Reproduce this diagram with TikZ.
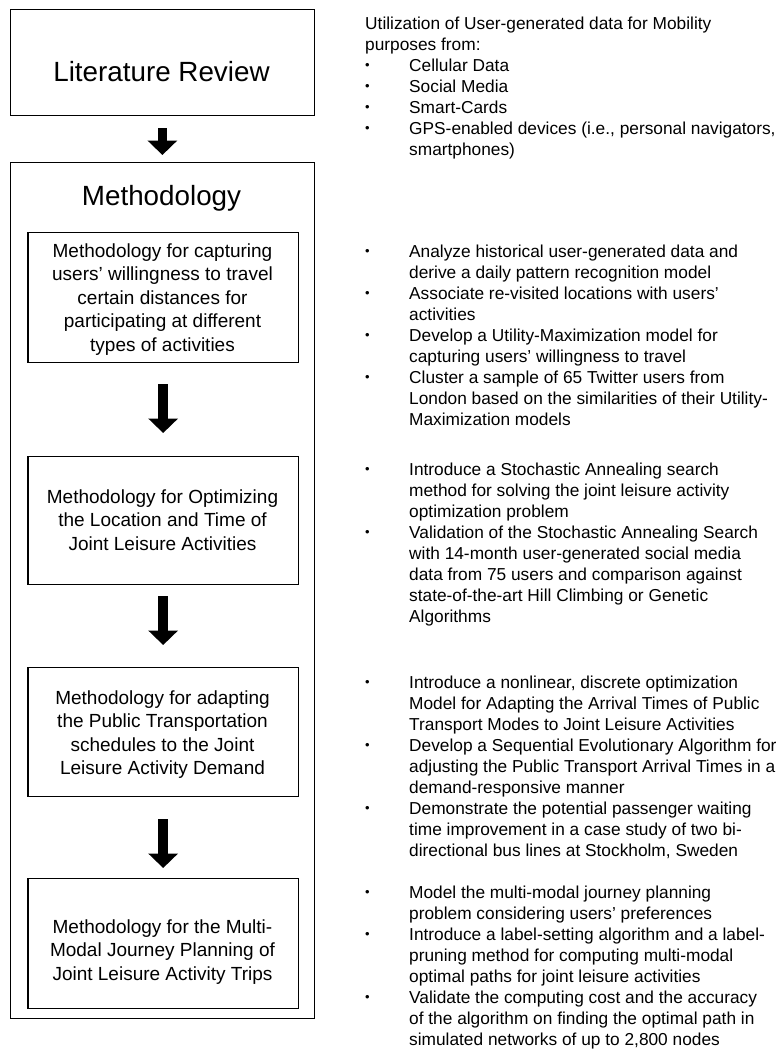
\documentclass[tikz,border=0pt]{standalone}
\usepackage{fontspec}
\setmainfont{Liberation Sans}
\usetikzlibrary{arrows.meta}
\newcommand{\dotmark}{\raisebox{1.6pt}{\scalebox{0.75}{\textbullet}}}
\begin{document}
\begin{tikzpicture}[x=1pt,y=-1pt,
  frame/.style={draw=black, line width=1.3pt, inner sep=0pt, anchor=north west},
  blockarrow/.style={line width=9.5pt, -{Triangle[width=29pt,length=14.5pt]}},
  bigtext/.style={font=\fontsize{27.8}{33}\selectfont, anchor=base, inner sep=0pt},
  steptext/.style={font=\fontsize{19}{23.5}\selectfont, anchor=base, inner sep=0pt},
  notes/.style={font=\fontsize{17.3}{21}\selectfont, anchor=base west, inner sep=0pt}]
\useasboundingbox (0,0) rectangle (783,1052);
\fill[white] (0,0) rectangle (783,1052);

% left column: frames
\node[frame, minimum width=304.5pt, minimum height=106pt] (lit) at (9.5,9) {};
\node[frame, minimum width=304.5pt, minimum height=856pt] (meth) at (9.5,162) {};
\node[frame, minimum width=270.4pt, minimum height=130pt] (s1) at (27.3,232) {};
\node[frame, minimum width=270.4pt, minimum height=128pt] (s2) at (27.3,456) {};
\node[frame, minimum width=270.4pt, minimum height=129pt] (s3) at (27.3,667) {};
\node[frame, minimum width=270.4pt, minimum height=130pt] (s4) at (27.3,878) {};

% left column: titles
\node[bigtext] (littitle) at (161.5,81) {Literature Review};
\node[bigtext] (methtitle) at (161.5,205) {Methodology};
\node[steptext] (s1text) at (162.5,257) {\begin{tabular}[t]{@{}c@{}}
Methodology for capturing\\ users’ willingness to travel\\ certain distances for\\
participating at different\\ types of activities\end{tabular}};
\node[steptext] (s2text) at (162.5,503) {\begin{tabular}[t]{@{}c@{}}
Methodology for Optimizing\\ the Location and Time of\\ Joint Leisure Activities\end{tabular}};
\node[steptext] (s3text) at (162.5,704) {\begin{tabular}[t]{@{}c@{}}
Methodology for adapting\\ the Public Transportation\\ schedules to the Joint\\
Leisure Activity Demand\end{tabular}};
\node[steptext] (s4text) at (162.5,933) {\begin{tabular}[t]{@{}c@{}}
Methodology for the Multi-\\ Modal Journey Planning of\\ Joint Leisure Activity Trips\end{tabular}};

% block arrows between the stages
\draw[blockarrow] ([yshift=-12pt]lit.south) -- ([yshift=7pt]meth.north);
\draw[blockarrow] ([yshift=-21pt]s1.south) -- ([yshift=23pt]s2.north);
\draw[blockarrow] ([yshift=-11pt]s2.south) -- ([yshift=22pt]s3.north);
\draw[blockarrow] ([yshift=-22pt]s3.south) -- ([yshift=10pt]s4.north);

% right column: bullet notes
\node[notes] (n0) at (365,29) {\begin{tabular}[t]{@{}p{44pt}@{}l@{}}
\multicolumn{2}{@{}l@{}}{Utilization of User-generated data for Mobility}\\
\multicolumn{2}{@{}l@{}}{purposes from:}\\
\dotmark & Cellular Data\\
\dotmark & Social Media\\
\dotmark & Smart-Cards\\
\dotmark & GPS-enabled devices (i.e., personal navigators,\\
 & smartphones)
\end{tabular}};

\node[notes] (n1) at (365,257) {\begin{tabular}[t]{@{}p{44pt}@{}l@{}}
\dotmark & Analyze historical user-generated data and\\
 & derive a daily pattern recognition model\\
\dotmark & Associate re-visited locations with users’\\
 & activities\\
\dotmark & Develop a Utility-Maximization model for\\
 & capturing users’ willingness to travel\\
\dotmark & Cluster a sample of 65 Twitter users from\\
 & London based on the similarities of their Utility-\\
 & Maximization models
\end{tabular}};

\node[notes] (n2) at (365,475) {\begin{tabular}[t]{@{}p{44pt}@{}l@{}}
\dotmark & Introduce a Stochastic Annealing search\\
 & method for solving the joint leisure activity\\
 & optimization problem\\
\dotmark & Validation of the Stochastic Annealing Search\\
 & with 14-month user-generated social media\\
 & data from 75 users and comparison against\\
 & state-of-the-art Hill Climbing or Genetic\\
 & Algorithms
\end{tabular}};

\node[notes] (n3) at (365,688) {\begin{tabular}[t]{@{}p{44pt}@{}l@{}}
\dotmark & Introduce a nonlinear, discrete optimization\\
 & Model for Adapting the Arrival Times of Public\\
 & Transport Modes to Joint Leisure Activities\\
\dotmark & Develop a Sequential Evolutionary Algorithm for\\
 & adjusting the Public Transport Arrival Times in a\\
 & demand-responsive manner\\
\dotmark & Demonstrate the potential passenger waiting\\
 & time improvement in a case study of two bi-\\
 & directional bus lines at Stockholm, Sweden
\end{tabular}};

\node[notes] (n4) at (365,898) {\begin{tabular}[t]{@{}p{44pt}@{}l@{}}
\dotmark & Model the multi-modal journey planning\\
 & problem considering users’ preferences\\
\dotmark & Introduce a label-setting algorithm and a label-\\
 & pruning method for computing multi-modal\\
 & optimal paths for joint leisure activities\\
\dotmark & Validate the computing cost and the accuracy\\
 & of the algorithm on finding the optimal path in\\
 & simulated networks of up to 2,800 nodes
\end{tabular}};
\end{tikzpicture}
\end{document}
